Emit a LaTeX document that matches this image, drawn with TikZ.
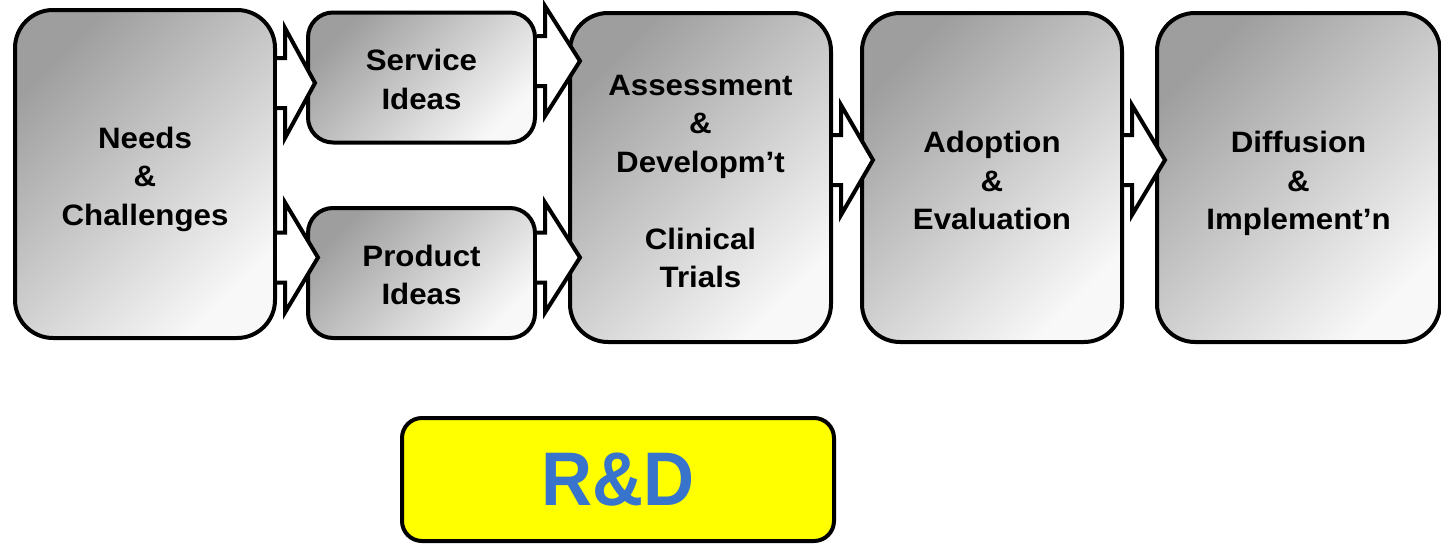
\documentclass[tikz,border=0pt]{standalone}
\usepackage{fontspec}
\setmainfont{Liberation Sans}[FakeStretch=1.06]
\newfontfamily\rdfont{Liberation Sans}[FakeStretch=0.93]
\usetikzlibrary{calc}
\definecolor{rdblue}{RGB}{56,116,204}
\definecolor{rdyellow}{RGB}{255,255,0}
\definecolor{shadedark}{RGB}{158,158,158}
\definecolor{shadelight}{RGB}{248,248,248}
\tikzset{
  stage/.style={draw=black, line width=4pt, top color=shadedark, bottom color=shadelight,
    shading angle=45, inner sep=0pt},
  stagetext/.style={align=center, inner sep=0pt,
    font=\bfseries\fontsize{29.5}{38.5}\selectfont},
  bigstage/.style={stage, rounded corners=38pt, minimum height=329pt},
  idea/.style={stage, rounded corners=25pt, minimum width=227pt, minimum height=130pt},
  rdbox/.style={draw=black, line width=4pt, fill=rdyellow, rounded corners=20pt,
    minimum width=432pt, minimum height=123pt, inner sep=0pt, text=rdblue,
    font=\rdfont\bfseries\fontsize{76}{80}\selectfont},
  barrow/.style={draw=black, fill=white, line width=4pt, line join=miter},
}
\newcommand\blockarrow[4]{%
  \draw[barrow] let \p1=(#1.east), \p2=(#2.west) in
    ({\x1},{-(#3-25)*1pt}) -- ({\x1+8pt},{-(#3-25)*1pt}) -- ({\x1+8pt},{-(#3-55)*1pt})
    -- ({\x2+#4pt},{-#3*1pt})
    -- ({\x1+8pt},{-(#3+55)*1pt}) -- ({\x1+8pt},{-(#3+25)*1pt}) -- ({\x1},{-(#3+25)*1pt});
}
\begin{document}
\begin{tikzpicture}[x=1pt,y=-1pt]
\useasboundingbox (0,0) rectangle (1441,544);
\node[bigstage, minimum width=260pt, minimum height=328pt] (needs) at (145,174) {};
\node[idea] (service) at (421.5,77.5) {};
\node[idea] (product) at (421.5,273) {};
\node[bigstage, minimum width=261pt] (assess) at (700.5,177.5) {};
\node[bigstage, minimum width=260pt] (adopt) at (992,177.5) {};
\node[bigstage, minimum width=283pt] (diff) at (1298.5,177.5) {};
\node[stagetext] (needst) at ([yshift=-5pt]needs.center) {Needs\\\&\\Challenges};
\node[stagetext] (servicet) at ([yshift=-2pt]service.center) {Service\\Ideas};
\node[stagetext] (productt) at ([yshift=-2pt]product.center) {Product\\Ideas};
\node[stagetext] (assesst) at ([yshift=-4pt]assess.center) {Assessment\\\&\\Developm’t\\[38.5pt]Clinical\\Trials};
\node[stagetext] (adoptt) at ([yshift=-3pt]adopt.center) {Adoption\\\&\\Evaluation};
\node[stagetext] (difft) at ([yshift=-6pt]diff.center) {Diffusion\\\&\\Implement’n};
\node[rdbox] (rd) at (618,479.5) {R\&D};
\blockarrow{needs}{service}{83}{9}
\blockarrow{needs}{product}{257.5}{12}
\blockarrow{service}{assess}{61}{12}
\blockarrow{product}{assess}{257.5}{12}
\blockarrow{assess}{adopt}{160}{13}
\blockarrow{adopt}{diff}{160}{10}
\end{tikzpicture}
\end{document}
